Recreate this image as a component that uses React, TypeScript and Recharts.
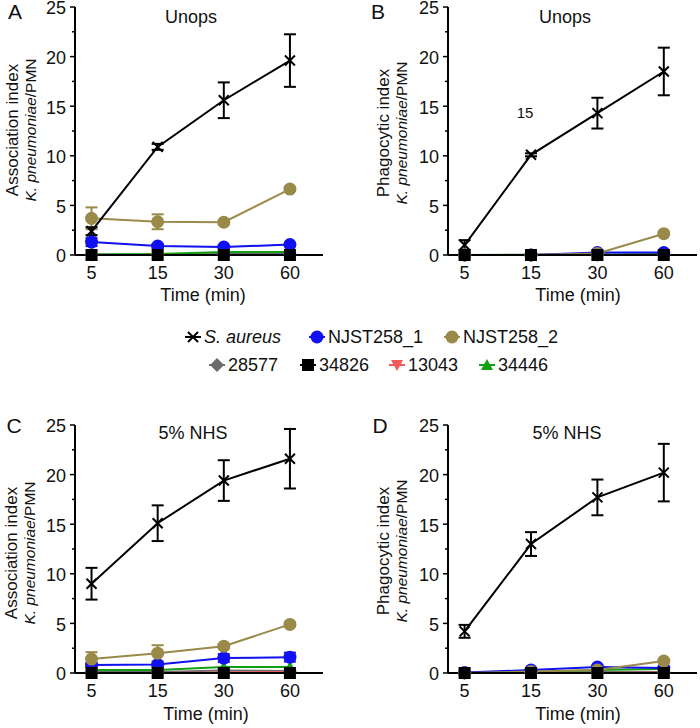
import { LineChart, Line, XAxis, YAxis, ErrorBar } from 'recharts'

const times = ['5', '15', '30', '60']
const yTicks = [0, 2.5, 5, 7.5, 10, 12.5, 15, 17.5, 20, 22.5, 25]

// A: Unops, association index
const aSa = [2.4, 10.9, 15.6, 19.6]
const aSaErr = [0.4, 0.3, 1.8, 2.65]
const aN1 = [1.3, 0.9, 0.8, 1.05]
const aN1Err = [0.4, 0.2, 0.1, 0.1]
const aN2 = [3.7, 3.35, 3.3, 6.65]
const aN2Err = [1.1, 0.75, 0.2, 0.2]
const a28577 = [0.05, 0.05, 0.1, 0.1]
const a34826 = [0, 0, 0, 0]
const a13043 = [0, 0, 0, 0]
const a34446 = [0.05, 0.1, 0.3, 0.3]

// B: Unops, phagocytic index
const bSa = [1.0, 10.1, 14.3, 18.5]
const bSaErr = [0.5, 0.15, 1.55, 2.4]
const bN1 = [0, 0, 0.25, 0.25]
const bN1Err = [0, 0, 0.05, 0.05]
const bN2 = [0, 0, 0.15, 2.15]
const bN2Err = [0, 0, 0.05, 0.1]
const b28577 = [0, 0, 0, 0.05]
const b34826 = [0, 0, 0, 0]
const b13043 = [0, 0, 0, 0]
const b34446 = [0, 0.02, 0.05, 0.1]

// C: 5% NHS, association index
const cSa = [9.0, 15.1, 19.4, 21.6]
const cSaErr = [1.6, 1.8, 2.05, 3.0]
const cN1 = [0.8, 0.85, 1.5, 1.6]
const cN1Err = [0.2, 0.2, 0.4, 0.45]
const cN2 = [1.4, 2.0, 2.7, 4.9]
const cN2Err = [0.7, 0.8, 0.2, 0.2]
const c28577 = [0.1, 0.1, 0.25, 0.2]
const c34826 = [0, 0, 0, 0]
const c13043 = [0, 0, 0.05, 0.1]
const c34446 = [0.3, 0.3, 0.6, 0.6]

// D: 5% NHS, phagocytic index
const dSa = [4.2, 13.0, 17.7, 20.2]
const dSaErr = [0.65, 1.2, 1.8, 2.9]
const dN1 = [0.05, 0.3, 0.6, 0.5]
const dN1Err = [0, 0.05, 0.1, 0.1]
const dN2 = [0, 0.15, 0.3, 1.2]
const dN2Err = [0, 0.05, 0.05, 0.15]
const d28577 = [0, 0.05, 0.1, 0.1]
const d34826 = [0, 0, 0, 0]
const d13043 = [0, 0, 0, 0.05]
const d34446 = [0, 0.1, 0.3, 0.4]

const FONT = '"Liberation Sans", Arial, sans-serif'
const OLIVE = '#9a8a4a'
const BLUE = '#1010f0'
const GREEN = '#12a012'
const RED = '#f05a5a'
const GREY = '#6b6b6b'

function rows(sa, saErr, n1, n1Err, n2, n2Err, s1, s2, s3, s4) {
  return times.map((t, i) => ({
    i,
    sa: sa[i],
    saErr: saErr[i],
    n1: n1[i],
    n1Err: n1Err[i],
    n2: n2[i],
    n2Err: n2Err[i],
    s28577: s1[i],
    s34826: s2[i],
    s13043: s3[i],
    s34446: s4[i],
  }))
}

const markers = {
  x: (cx, cy, c) => (
    <g>
      <line x1={cx - 5} y1={cy - 5} x2={cx + 5} y2={cy + 5} stroke={c} strokeWidth={2} />
      <line x1={cx - 5} y1={cy + 5} x2={cx + 5} y2={cy - 5} stroke={c} strokeWidth={2} />
    </g>
  ),
  circle: (cx, cy, c) => <circle cx={cx} cy={cy} r={6.5} fill={c} />,
  square: (cx, cy, c) => <rect x={cx - 6} y={cy - 6} width={12} height={12} fill={c} />,
  diamond: (cx, cy, c) => (
    <polygon points={`${cx},${cy - 7} ${cx + 7},${cy} ${cx},${cy + 7} ${cx - 7},${cy}`} fill={c} />
  ),
  down: (cx, cy, c) => (
    <polygon points={`${cx - 6},${cy - 5} ${cx + 6},${cy - 5} ${cx},${cy + 6}`} fill={c} />
  ),
  up: (cx, cy, c) => (
    <polygon points={`${cx - 6},${cy + 5} ${cx + 6},${cy + 5} ${cx},${cy - 6}`} fill={c} />
  ),
}

// draw order: bottom first
const series = [
  { key: 's28577', color: GREY, shape: 'diamond' },
  { key: 's13043', color: RED, shape: 'down' },
  { key: 's34446', color: GREEN, shape: 'up' },
  { key: 'n1', err: 'n1Err', color: BLUE, shape: 'circle' },
  { key: 'n2', err: 'n2Err', color: OLIVE, shape: 'circle' },
  { key: 's34826', color: '#000', shape: 'square' },
  { key: 'sa', err: 'saErr', color: '#000', shape: 'x' },
]

const YTick = ({ x, y, payload }: any) => {
  const major = payload.value % 5 === 0
  return (
    <g>
      <line x1={x - (major ? 5 : 3)} x2={x} y1={y} y2={y} stroke="#000" strokeWidth={1.5} />
      {major && (
        <text x={x - 9} y={y + 1} dy="0.36em" textAnchor="end" fontSize={18} fontFamily={FONT} fill="#111">
          {payload.value}
        </text>
      )}
    </g>
  )
}

const XTick = ({ x, y, payload }: any) => (
  <g>
    <line x1={x} x2={x} y1={y} y2={y + 4} stroke="#000" strokeWidth={1.5} />
    <text x={x} y={y + 18} dy="0.36em" textAnchor="middle" fontSize={18} fontFamily={FONT} fill="#111">
      {times[payload.value]}
    </text>
  </g>
)

function Panel({ data, left, top, yw, mr }: any) {
  return (
    <LineChart
      width={350}
      height={306}
      data={data}
      margin={{ top: 13, right: mr, bottom: 0, left: 0 }}
      style={{ position: 'absolute', left, top: top - 6 }}
    >
      <XAxis
        type="number"
        dataKey="i"
        domain={[-0.25, 3.5]}
        ticks={[0, 1, 2, 3]}
        height={45}
        tickSize={0}
        tickMargin={0}
        tickLine={false}
        axisLine={{ stroke: '#000', strokeWidth: 2 }}
        tick={<XTick />}
        interval={0}
      />
      <YAxis
        type="number"
        domain={[0, 25]}
        ticks={yTicks}
        width={yw}
        tickSize={0}
        tickMargin={0}
        tickLine={false}
        axisLine={{ stroke: '#000', strokeWidth: 2 }}
        tick={<YTick />}
        interval={0}
      />
      {series.map((s) => (
        <Line
          key={s.key}
          dataKey={s.key}
          stroke={s.color}
          strokeWidth={2}
          isAnimationActive={false}
          activeDot={false}
          dot={(p: any) => <g key={`${s.key}-${p.index}`}>{markers[s.shape](p.cx, p.cy, s.color)}</g>}
        >
          {s.err && (
            <ErrorBar dataKey={s.err} width={6} strokeWidth={2} stroke={s.color} direction="y" />
          )}
        </Line>
      ))}
    </LineChart>
  )
}

const abs = (x, y, extra = {}) => ({
  position: 'absolute' as const,
  left: x,
  top: y,
  transform: 'translate(-50%, -50%)',
  whiteSpace: 'nowrap' as const,
  fontFamily: FONT,
  color: '#111',
  lineHeight: 1,
  ...extra,
})

function YLabel({ x, y, first }: any) {
  return (
    <>
      <div style={abs(x, y, { fontSize: 17, transform: 'translate(-50%, -50%) rotate(-90deg)' })}>{first}</div>
      <div style={abs(x + 19, y, { fontSize: 15.5, transform: 'translate(-50%, -50%) rotate(-90deg)' })}>
        <i>K. pneumoniae</i>/PMN
      </div>
    </>
  )
}

function LegendItem({ x, y, label, color, shape, italic }: any) {
  return (
    <>
      <svg width={20} height={20} style={{ position: 'absolute', left: x - 10, top: y - 10 }}>
        <line x1={2} x2={18} y1={10} y2={10} stroke={color} strokeWidth={2} />
        {markers[shape](10, 10, color)}
      </svg>
      <div style={{ ...abs(x + 11, y, { fontSize: 18, transform: 'translate(0, -50%)' }), fontStyle: italic ? 'italic' : 'normal' }}>
        {label}
      </div>
    </>
  )
}

export default function App() {
  return (
    <div style={{ position: 'absolute', left: 0, top: 0, width: 700, height: 728, background: '#fff' }}>
      <Panel data={rows(aSa, aSaErr, aN1, aN1Err, aN2, aN2Err, a28577, a34826, a13043, a34446)} left={0} top={0} yw={75} mr={27} />
      <Panel data={rows(bSa, bSaErr, bN1, bN1Err, bN2, bN2Err, b28577, b34826, b13043, b34446)} left={350} top={0} yw={98} mr={3} />
      <Panel data={rows(cSa, cSaErr, cN1, cN1Err, cN2, cN2Err, c28577, c34826, c13043, c34446)} left={0} top={418} yw={75} mr={27} />
      <Panel data={rows(dSa, dSaErr, dN1, dN1Err, dN2, dN2Err, d28577, d34826, d13043, d34446)} left={350} top={418} yw={98} mr={3} />

      <div style={abs(15, 11, { fontSize: 21 })}>A</div>
      <div style={abs(378, 11, { fontSize: 21 })}>B</div>
      <div style={abs(14, 425, { fontSize: 21 })}>C</div>
      <div style={abs(380, 425, { fontSize: 21 })}>D</div>

      <div style={abs(191, 17, { fontSize: 18 })}>Unops</div>
      <div style={abs(565, 17, { fontSize: 18 })}>Unops</div>
      <div style={abs(193, 433, { fontSize: 18 })}>5% NHS</div>
      <div style={abs(567, 433, { fontSize: 18 })}>5% NHS</div>

      <div style={abs(525, 112, { fontSize: 15 })}>15</div>

      <div style={abs(203, 295, { fontSize: 18 })}>Time (min)</div>
      <div style={abs(578, 295, { fontSize: 18 })}>Time (min)</div>
      <div style={abs(206, 714, { fontSize: 18 })}>Time (min)</div>
      <div style={abs(578, 714, { fontSize: 18 })}>Time (min)</div>

      <YLabel x={12} y={130} first="Association index" />
      <YLabel x={383} y={133} first="Phagocytic index" />
      <YLabel x={11} y={553} first="Association index" />
      <YLabel x={383} y={551} first="Phagocytic index" />

      <LegendItem x={193} y={337} label="S. aureus" color="#000" shape="x" italic />
      <LegendItem x={317} y={337} label="NJST258_1" color={BLUE} shape="circle" />
      <LegendItem x={452} y={337} label="NJST258_2" color={OLIVE} shape="circle" />
      <LegendItem x={217} y={365} label="28577" color={GREY} shape="diamond" />
      <LegendItem x={308} y={365} label="34826" color="#000" shape="square" />
      <LegendItem x={397} y={365} label="13043" color={RED} shape="down" />
      <LegendItem x={487} y={365} label="34446" color={GREEN} shape="up" />
    </div>
  )
}
